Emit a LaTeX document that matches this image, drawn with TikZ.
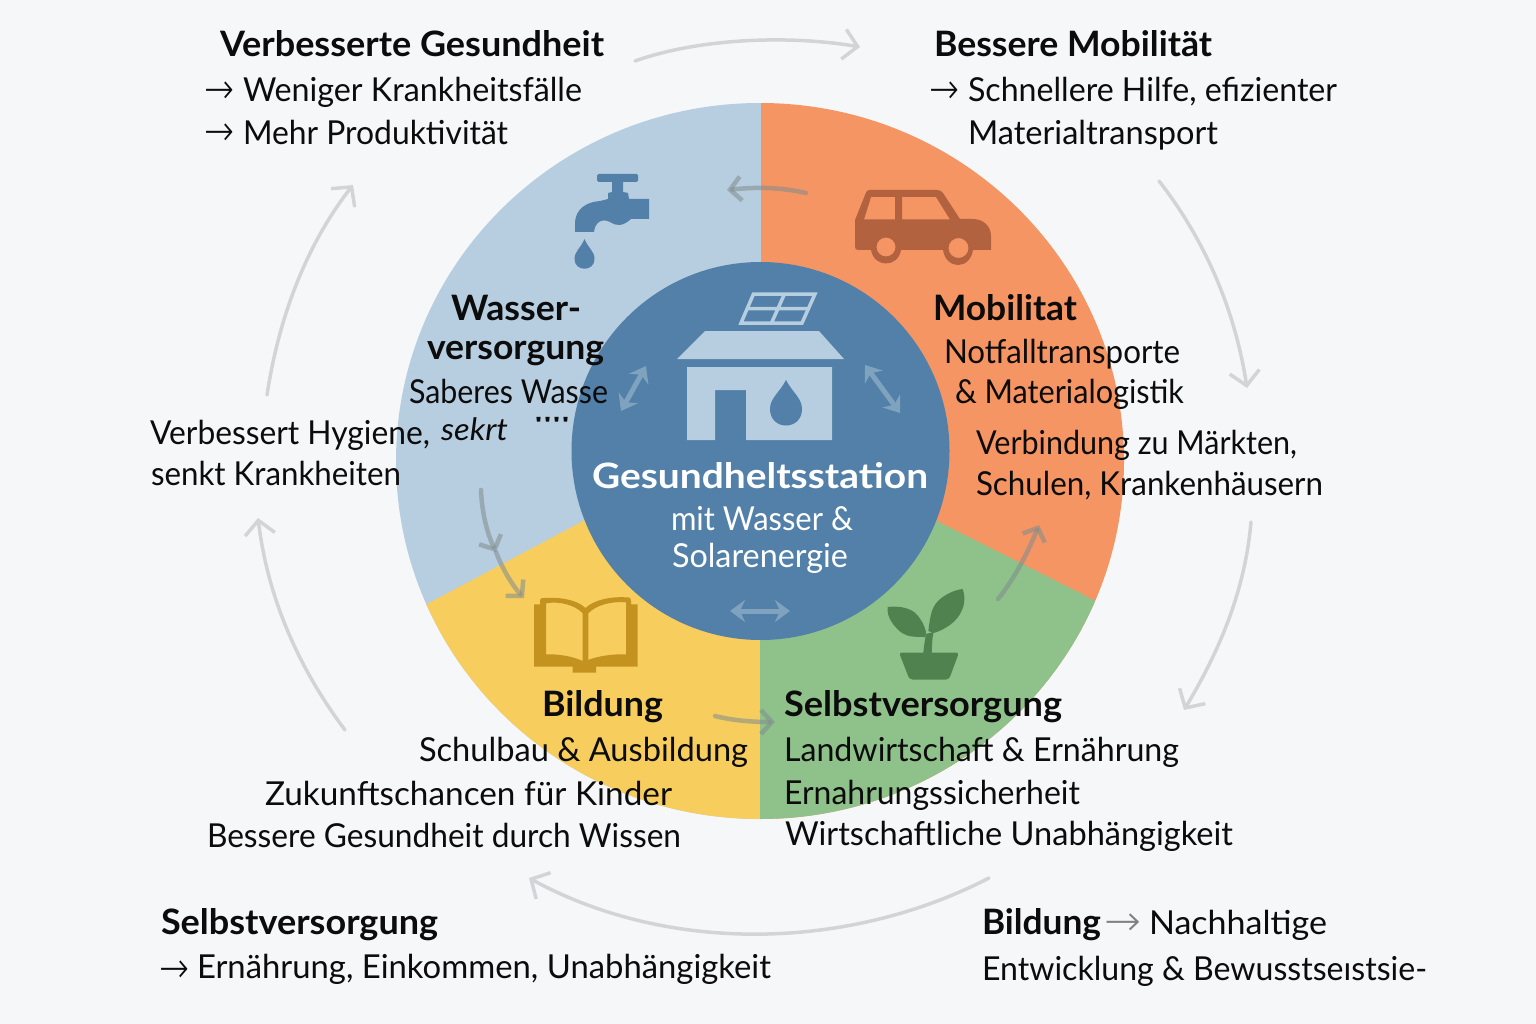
\documentclass[tikz,border=0pt]{standalone}
\usepackage{fontspec}
\usepackage{graphicx}
\setmainfont{Lato}
\newfontfamily\arrowfont{DejaVu Sans ExtraLight}
\newfontfamily\tickfont{Liberation Sans}
\usetikzlibrary{arrows.meta}
\definecolor{bgc}{HTML}{F6F7F9}
\definecolor{cblue}{HTML}{B7CDE0}
\definecolor{corange}{HTML}{F59563}
\definecolor{cyellow}{HTML}{F7CD5E}
\definecolor{cgreen}{HTML}{8FC28A}
\definecolor{ccenter}{HTML}{5280A8}
\definecolor{cgrey}{HTML}{D2D5D8}
\definecolor{cflow}{HTML}{7F8C8D}
\definecolor{ccar}{HTML}{B36240}
\definecolor{cbook}{HTML}{C4931F}
\definecolor{cplant}{HTML}{4F824F}
\definecolor{cdbl}{HTML}{7FA2BF}
\definecolor{ctext}{HTML}{0C0C0C}
\newcommand{\fw}[2]{\resizebox{#1pt}{\height}{#2}}
\tikzset{
 x=1pt,y=-1pt,
 txt/.style={anchor=base west,inner sep=0pt,outer sep=0pt,text=ctext,font=\fontsize{33}{38}\selectfont},
 ttl/.style={txt,font=\fontsize{35}{40}\selectfont\bfseries},
 wtl/.style={ttl,text=white},
 wtx/.style={txt,text=white},
 arr/.style={txt,font=\fontsize{42}{46}\arrowfont},
 outerarrow/.style={draw=cgrey,line width=3.5pt,line cap=round,-{Straight Barb[length=14pt,width=30pt,line width=3.5pt]}},
 flowarrow/.style={draw=cflow,draw opacity=.55,line width=4.5pt,line cap=round,-{Straight Barb[length=11pt,width=24pt,line width=4.5pt]}},
 dblarrow/.style={draw=cdbl,line width=5pt,{Stealth[length=15pt,width=22pt,inset=5pt]}-{Stealth[length=15pt,width=22pt,inset=5pt]}},
}
\begin{document}
\begin{tikzpicture}
\path[use as bounding box,fill=bgc] (0,0) rectangle (1536,1024);
% sectors
\begin{scope}
\clip (760,461) ellipse [x radius=364,y radius=358];
\fill[cblue] (761,50) rectangle (350,900);
\fill[corange] (761,50) rectangle (1175,900);
\fill[cyellow] (585,520) -- (350,645) -- (350,900) -- (760,900) -- (760,520) -- cycle;
\fill[cgreen] (935,520) -- (1175,641) -- (1175,900) -- (760,900) -- (760,520) -- cycle;
\end{scope}
% centre disc
\fill[ccenter] (760.5,451) circle[radius=189];
% house
\fill[cblue] (705,331) -- (819,331) -- (844,359) -- (677,359) -- cycle;
\fill[cblue] (687,367) -- (832,367) -- (832,440) -- (746,440) -- (746,390) -- (715,390) -- (715,440) -- (687,440) -- cycle;
\fill[ccenter] (786,380) .. controls (780,392) and (770,398) .. (770,409) .. controls (770,431) and (802,431) .. (802,409) .. controls (802,398) and (792,392) .. (786,380) -- cycle;
\draw[cblue,line width=3.5pt,line join=miter] (753.5,294) -- (815,294) -- (802,323) -- (741,323) -- cycle;
\draw[cblue,line width=3.5pt] (747,308.5) -- (809,308.5) (784.5,294) -- (771.5,323);
% double arrows
\draw[dblarrow] (646,366) -- (621,411);
\draw[dblarrow] (865,365) -- (900,413);
\draw[dblarrow] (730,611) -- (790,611);
% faucet
\fill[ccenter,rounded corners=1.5pt] (597,174) rectangle (638,182);
\fill[ccenter] (612,181) -- (623,181) -- (623,192) -- (628,193) -- (629,199) -- (649,199) -- (649,219) -- (631,219) .. controls (622,227) and (616,226) .. (610,222) .. controls (602,218) and (595,222) .. (594,232) -- (575,232) -- (575,222) .. controls (576,209) and (586,202) .. (600,201) -- (608,199) -- (608,193) -- (612,192) -- cycle;
\fill[ccenter] (584.5,239) .. controls (581,248) and (574.5,251) .. (574.5,259) .. controls (574.5,272) and (594.5,272) .. (594.5,259) .. controls (594.5,251) and (588,248) .. (584.5,239) -- cycle;
% car
\fill[ccar,even odd rule] (869,190) -- (937,190) .. controls (940,190) and (941,191) .. (943,193) -- (960,219) -- (973,219) .. controls (983,219) and (991,226) .. (991,236) -- (991,250) -- (973,250) .. controls (970,270) and (946,270) .. (943,250) -- (901,250) .. controls (898,268) and (874,268) .. (871,250) -- (858,250) .. controls (856,250) and (855,249) .. (855,247) -- (855,220) -- (865,195) .. controls (866,192) and (867,190) .. (869,190) -- cycle
 (871,197) -- (895,197) -- (895,219.5) -- (864,219.5) -- cycle
 (902,197) -- (936,197) -- (950,219.5) -- (902,219.5) -- cycle
 (886,247) circle[radius=9.5]
 (958.5,248) circle[radius=10];
% book
\fill[cbook,even odd rule] (534,604.3) -- (540,604.3) -- (540,600) .. controls (541,598) and (542,598) .. (544,598) .. controls (562,597) and (577,600) .. (585.5,608) .. controls (594,600) and (610,596) .. (629,597.5) .. controls (630.5,598) and (631,599) .. (631,601) -- (631,604.3) -- (637.5,604.3) -- (637.5,666.7) -- (596,666.7) -- (596,672.7) -- (572.7,672.7) -- (572.7,666.7) -- (534,666.7) -- cycle
 (546,603.3) .. controls (560,601) and (575,605) .. (582.7,613.3) -- (582.7,661) .. controls (572,656) and (558,654) .. (546,654.3) -- cycle
 (588.3,613.3) .. controls (596,605) and (612,601) .. (626,602.3) -- (626,654.3) .. controls (612,654) and (598,656) .. (588.3,660) -- cycle;
% plant
\fill[cplant,rounded corners=3pt] (899,652.5) -- (959,652.5) -- (949,679.5) -- (909.5,679.5) -- cycle;
\fill[cplant] (923.3,653) .. controls (924,645) and (925,640) .. (926,634) -- (933.5,632) .. controls (932,640) and (932,646) .. (931.7,653) -- cycle;
\fill[cplant] (887.7,607) .. controls (897,606) and (907,607) .. (914,612) .. controls (920,617) and (924,624) .. (926,632) -- (925.5,637) .. controls (916,637) and (908,637) .. (902,633) .. controls (895,628) and (886,617) .. (887.7,607) -- cycle;
\fill[cplant] (962.5,589) .. controls (965,594) and (965,604) .. (962,610) .. controls (958,621) and (945,630) .. (933.5,633) -- (928.3,631) .. controls (930,618) and (931,608) .. (938,601) .. controls (944,595) and (954,590) .. (962.5,589) -- cycle;
% flow arrows
\coordinate (f1a) at (806,193); \coordinate (f1b) at (727,190);
\draw[flowarrow] (f1a) .. controls (780,187) and (755,187) .. (f1b);
\coordinate (f2a) at (481,490); \coordinate (f2m) at (496,552); \coordinate (f2b) at (524,598);
\draw[flowarrow] (f2a) .. controls (482,515) and (488,535) .. (f2m);
\draw[flowarrow] (f2m) .. controls (502,568) and (512,585) .. (f2b);
\coordinate (f3a) at (715,716); \coordinate (f3b) at (775,722);
\draw[flowarrow] (f3a) .. controls (735,721) and (755,722) .. (f3b);
\coordinate (f4a) at (998,599); \coordinate (f4b) at (1039,525);
\draw[flowarrow] (f4a) .. controls (1015,578) and (1028,552) .. (f4b);
% outer arrows
\coordinate (o1a) at (635,61); \coordinate (o1b) at (860,47);
\draw[outerarrow] (o1a) .. controls (700,38) and (790,35) .. (o1b);
\coordinate (o2a) at (1159,181); \coordinate (o2b) at (1247,388);
\draw[outerarrow] (o2a) .. controls (1205,240) and (1235,310) .. (o2b);
\coordinate (o3a) at (1251,522); \coordinate (o3b) at (1184,710);
\draw[outerarrow] (o3a) .. controls (1245,590) and (1220,650) .. (o3b);
\coordinate (o4a) at (989,878); \coordinate (o4b) at (529,878);
\draw[outerarrow] (o4a) .. controls (850,950) and (670,955) .. (o4b);
\coordinate (o5a) at (345,730); \coordinate (o5b) at (258,518);
\draw[outerarrow] (o5a) .. controls (300,670) and (268,600) .. (o5b);
\coordinate (o6a) at (267,395); \coordinate (o6b) at (353,185);
\draw[outerarrow] (o6a) .. controls (280,310) and (310,240) .. (o6b);
% texts top left
\node[ttl] (t1) at (220,57) {\fw{384}{Verbesserte Gesundheit}};
\node[arr] (t1a) at (204,104) {\fw{30}{→}};
\node[txt] (t2) at (243,102) {\fw{339}{Weniger Krankheitsfälle}};
\node[arr] (t2a) at (204,146) {\fw{30}{→}};
\node[txt] (t3) at (243,145) {\fw{265}{Mehr Produktivität}};
% top right
\node[ttl] (t4) at (934,57) {\fw{278}{Bessere Mobilität}};
\node[arr] (t4a) at (929,104) {\fw{30}{→}};
\node[txt] (t5) at (968,102) {\fw{369}{Schnellere Hilfe, efizienter}};
\node[txt] (t6) at (968,145) {\fw{250}{Materialtransport}};
% water
\node[ttl] (w1) at (451,320) {\fw{130}{Wasser-}};
\node[ttl] (w2) at (427,359) {\fw{177}{versorgung}};
\node[txt] (w3) at (409,403) {\fw{199}{Saberes Wasse}};
\node[txt,font=\fontsize{31}{36}\selectfont\itshape] (w4) at (441,440) {\fw{67}{sekrt}};
\node[txt,font=\fontsize{22}{26}\tickfont] (w5) at (534,432) {\fw{36}{''''}};
\node[txt] (w6) at (150,444) {\fw{280}{Verbessert Hygiene,}};
\node[txt] (w7) at (151,485) {\fw{250}{senkt Krankheiten}};
% mobility
\node[ttl] (m1) at (933,320) {\fw{144}{Mobilitat}};
\node[txt] (m2) at (944,363) {\fw{236}{Notfalltransporte}};
\node[txt] (m3) at (955,403) {\fw{229}{\& Materialogistik}};
\node[txt] (m4) at (976,454) {\fw{321}{Verbindung zu Märkten,}};
\node[txt] (m5) at (976,495) {\fw{347}{Schulen, Krankenhäusern}};
% centre
\node[wtl] (c1) at (592,488) {\fw{336}{Gesundheltsstation}};
\node[wtx] (c2) at (671,530) {\fw{182}{mit Wasser \&}};
\node[wtx] (c3) at (672,567) {\fw{176}{Solarenergie}};
% education
\node[ttl] (b1) at (542,716) {\fw{121}{Bildung}};
\node[txt] (b2) at (419,761) {\fw{329}{Schulbau \& Ausbildung}};
\node[txt] (b3) at (265,805) {\fw{407}{Zukunftschancen für Kinder}};
\node[txt] (b4) at (207,847) {\fw{474}{Bessere Gesundheit durch Wissen}};
% self-sufficiency
\node[ttl] (s1) at (784,716) {\fw{278}{Selbstversorgung}};
\node[txt] (s2) at (784,761) {\fw{395}{Landwirtschaft \& Ernährung}};
\node[txt] (s3) at (784,804) {\fw{296}{Ernahrungssicherheit}};
\node[txt] (s4) at (785,845) {\fw{448}{Wirtschaftliche Unabhängigkeit}};
% bottom left
\node[ttl] (x1) at (161,934) {\fw{277}{Selbstversorgung}};
\node[arr] (x1a) at (159,982) {\fw{30}{→}};
\node[txt] (x2) at (197,978) {\fw{574}{Ernährung, Einkommen, Unabhängigkeit}};
% bottom right
\node[ttl] (y1) at (982,934) {\fw{119}{Bildung}};
\node[arr,text=gray] (y1a) at (1104,935) {\fw{37}{→}};
\node[txt] (y2) at (1149,934) {\fw{178}{Nachhaltige}};
\node[txt] (y3) at (982,980) {\fw{445}{Entwicklung \& Bewusstseıstsie-}};
\end{tikzpicture}
\end{document}
